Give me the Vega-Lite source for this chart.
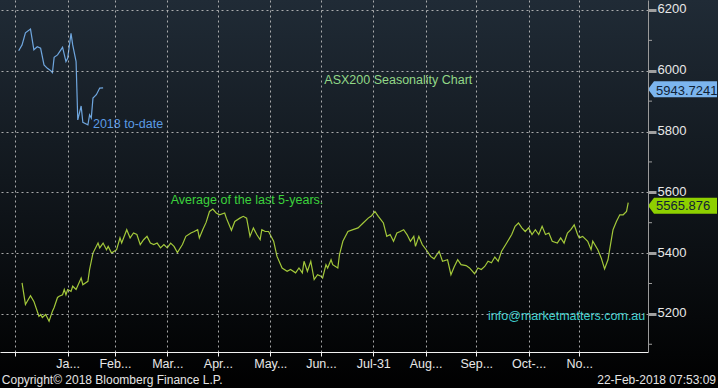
{
  "$schema": "https://vega.github.io/schema/vega-lite/v6.json",
  "width": 648,
  "height": 352,
  "autosize": {"type": "none"},
  "padding": {"left": 0, "top": 0, "right": 70, "bottom": 36},
  "background": "#000000",
  "config": {
    "view": {"stroke": null},
    "axis": {"labelFont": "Liberation Sans", "labelColor": "#e8e8e8", "gridColor": "#c4c4c4", "gridDash": [2, 3], "gridWidth": 1}
  },
  "datasets": {
    "lines": [
      {"series": "avg", "date": "2018-01-04", "value": 5302},
      {"series": "avg", "date": "2018-01-06", "value": 5231},
      {"series": "avg", "date": "2018-01-09", "value": 5260},
      {"series": "avg", "date": "2018-01-11", "value": 5241},
      {"series": "avg", "date": "2018-01-14", "value": 5192},
      {"series": "avg", "date": "2018-01-15", "value": 5198},
      {"series": "avg", "date": "2018-01-16", "value": 5188},
      {"series": "avg", "date": "2018-01-18", "value": 5198},
      {"series": "avg", "date": "2018-01-20", "value": 5176},
      {"series": "avg", "date": "2018-01-22", "value": 5209},
      {"series": "avg", "date": "2018-01-23", "value": 5221},
      {"series": "avg", "date": "2018-01-25", "value": 5254},
      {"series": "avg", "date": "2018-01-26", "value": 5258},
      {"series": "avg", "date": "2018-01-28", "value": 5263},
      {"series": "avg", "date": "2018-01-29", "value": 5280},
      {"series": "avg", "date": "2018-01-30", "value": 5263},
      {"series": "avg", "date": "2018-01-31", "value": 5280},
      {"series": "avg", "date": "2018-02-02", "value": 5274},
      {"series": "avg", "date": "2018-02-03", "value": 5291},
      {"series": "avg", "date": "2018-02-05", "value": 5280},
      {"series": "avg", "date": "2018-02-08", "value": 5318},
      {"series": "avg", "date": "2018-02-09", "value": 5296},
      {"series": "avg", "date": "2018-02-12", "value": 5307},
      {"series": "avg", "date": "2018-02-13", "value": 5346},
      {"series": "avg", "date": "2018-02-15", "value": 5400},
      {"series": "avg", "date": "2018-02-18", "value": 5433},
      {"series": "avg", "date": "2018-02-19", "value": 5417},
      {"series": "avg", "date": "2018-02-21", "value": 5433},
      {"series": "avg", "date": "2018-02-23", "value": 5411},
      {"series": "avg", "date": "2018-02-24", "value": 5422},
      {"series": "avg", "date": "2018-02-26", "value": 5400},
      {"series": "avg", "date": "2018-03-01", "value": 5411},
      {"series": "avg", "date": "2018-03-03", "value": 5450},
      {"series": "avg", "date": "2018-03-04", "value": 5433},
      {"series": "avg", "date": "2018-03-07", "value": 5477},
      {"series": "avg", "date": "2018-03-09", "value": 5450},
      {"series": "avg", "date": "2018-03-11", "value": 5466},
      {"series": "avg", "date": "2018-03-13", "value": 5461},
      {"series": "avg", "date": "2018-03-15", "value": 5428},
      {"series": "avg", "date": "2018-03-17", "value": 5444},
      {"series": "avg", "date": "2018-03-19", "value": 5455},
      {"series": "avg", "date": "2018-03-21", "value": 5433},
      {"series": "avg", "date": "2018-03-23", "value": 5428},
      {"series": "avg", "date": "2018-03-25", "value": 5433},
      {"series": "avg", "date": "2018-03-27", "value": 5417},
      {"series": "avg", "date": "2018-03-29", "value": 5428},
      {"series": "avg", "date": "2018-03-31", "value": 5417},
      {"series": "avg", "date": "2018-04-02", "value": 5433},
      {"series": "avg", "date": "2018-04-04", "value": 5422},
      {"series": "avg", "date": "2018-04-06", "value": 5402},
      {"series": "avg", "date": "2018-04-09", "value": 5428},
      {"series": "avg", "date": "2018-04-11", "value": 5455},
      {"series": "avg", "date": "2018-04-14", "value": 5466},
      {"series": "avg", "date": "2018-04-16", "value": 5471},
      {"series": "avg", "date": "2018-04-18", "value": 5477},
      {"series": "avg", "date": "2018-04-19", "value": 5450},
      {"series": "avg", "date": "2018-04-21", "value": 5477},
      {"series": "avg", "date": "2018-04-23", "value": 5501},
      {"series": "avg", "date": "2018-04-25", "value": 5537},
      {"series": "avg", "date": "2018-04-27", "value": 5545},
      {"series": "avg", "date": "2018-04-29", "value": 5532},
      {"series": "avg", "date": "2018-05-01", "value": 5526},
      {"series": "avg", "date": "2018-05-04", "value": 5532},
      {"series": "avg", "date": "2018-05-05", "value": 5515},
      {"series": "avg", "date": "2018-05-08", "value": 5475},
      {"series": "avg", "date": "2018-05-10", "value": 5504},
      {"series": "avg", "date": "2018-05-13", "value": 5515},
      {"series": "avg", "date": "2018-05-15", "value": 5521},
      {"series": "avg", "date": "2018-05-17", "value": 5515},
      {"series": "avg", "date": "2018-05-19", "value": 5455},
      {"series": "avg", "date": "2018-05-21", "value": 5483},
      {"series": "avg", "date": "2018-05-23", "value": 5461},
      {"series": "avg", "date": "2018-05-25", "value": 5444},
      {"series": "avg", "date": "2018-05-26", "value": 5477},
      {"series": "avg", "date": "2018-05-28", "value": 5471},
      {"series": "avg", "date": "2018-05-30", "value": 5471},
      {"series": "avg", "date": "2018-06-02", "value": 5439},
      {"series": "avg", "date": "2018-06-04", "value": 5389},
      {"series": "avg", "date": "2018-06-07", "value": 5351},
      {"series": "avg", "date": "2018-06-10", "value": 5340},
      {"series": "avg", "date": "2018-06-12", "value": 5346},
      {"series": "avg", "date": "2018-06-15", "value": 5335},
      {"series": "avg", "date": "2018-06-17", "value": 5351},
      {"series": "avg", "date": "2018-06-19", "value": 5335},
      {"series": "avg", "date": "2018-06-20", "value": 5373},
      {"series": "avg", "date": "2018-06-22", "value": 5340},
      {"series": "avg", "date": "2018-06-24", "value": 5373},
      {"series": "avg", "date": "2018-06-26", "value": 5313},
      {"series": "avg", "date": "2018-06-28", "value": 5329},
      {"series": "avg", "date": "2018-06-30", "value": 5324},
      {"series": "avg", "date": "2018-07-01", "value": 5318},
      {"series": "avg", "date": "2018-07-03", "value": 5362},
      {"series": "avg", "date": "2018-07-04", "value": 5351},
      {"series": "avg", "date": "2018-07-06", "value": 5378},
      {"series": "avg", "date": "2018-07-07", "value": 5362},
      {"series": "avg", "date": "2018-07-10", "value": 5351},
      {"series": "avg", "date": "2018-07-11", "value": 5395},
      {"series": "avg", "date": "2018-07-13", "value": 5439},
      {"series": "avg", "date": "2018-07-16", "value": 5471},
      {"series": "avg", "date": "2018-07-19", "value": 5477},
      {"series": "avg", "date": "2018-07-22", "value": 5483},
      {"series": "avg", "date": "2018-07-25", "value": 5499},
      {"series": "avg", "date": "2018-07-28", "value": 5515},
      {"series": "avg", "date": "2018-07-30", "value": 5523},
      {"series": "avg", "date": "2018-08-01", "value": 5537},
      {"series": "avg", "date": "2018-08-03", "value": 5521},
      {"series": "avg", "date": "2018-08-06", "value": 5499},
      {"series": "avg", "date": "2018-08-08", "value": 5455},
      {"series": "avg", "date": "2018-08-10", "value": 5461},
      {"series": "avg", "date": "2018-08-12", "value": 5439},
      {"series": "avg", "date": "2018-08-14", "value": 5466},
      {"series": "avg", "date": "2018-08-16", "value": 5471},
      {"series": "avg", "date": "2018-08-18", "value": 5477},
      {"series": "avg", "date": "2018-08-20", "value": 5461},
      {"series": "avg", "date": "2018-08-22", "value": 5439},
      {"series": "avg", "date": "2018-08-24", "value": 5455},
      {"series": "avg", "date": "2018-08-25", "value": 5422},
      {"series": "avg", "date": "2018-08-27", "value": 5455},
      {"series": "avg", "date": "2018-08-29", "value": 5428},
      {"series": "avg", "date": "2018-09-01", "value": 5406},
      {"series": "avg", "date": "2018-09-03", "value": 5389},
      {"series": "avg", "date": "2018-09-05", "value": 5381},
      {"series": "avg", "date": "2018-09-08", "value": 5406},
      {"series": "avg", "date": "2018-09-10", "value": 5373},
      {"series": "avg", "date": "2018-09-13", "value": 5378},
      {"series": "avg", "date": "2018-09-15", "value": 5329},
      {"series": "avg", "date": "2018-09-17", "value": 5356},
      {"series": "avg", "date": "2018-09-19", "value": 5378},
      {"series": "avg", "date": "2018-09-21", "value": 5362},
      {"series": "avg", "date": "2018-09-24", "value": 5359},
      {"series": "avg", "date": "2018-09-26", "value": 5351},
      {"series": "avg", "date": "2018-09-29", "value": 5332},
      {"series": "avg", "date": "2018-10-01", "value": 5351},
      {"series": "avg", "date": "2018-10-03", "value": 5346},
      {"series": "avg", "date": "2018-10-05", "value": 5356},
      {"series": "avg", "date": "2018-10-07", "value": 5373},
      {"series": "avg", "date": "2018-10-09", "value": 5368},
      {"series": "avg", "date": "2018-10-11", "value": 5387},
      {"series": "avg", "date": "2018-10-13", "value": 5373},
      {"series": "avg", "date": "2018-10-15", "value": 5406},
      {"series": "avg", "date": "2018-10-18", "value": 5433},
      {"series": "avg", "date": "2018-10-21", "value": 5461},
      {"series": "avg", "date": "2018-10-23", "value": 5488},
      {"series": "avg", "date": "2018-10-25", "value": 5499},
      {"series": "avg", "date": "2018-10-27", "value": 5483},
      {"series": "avg", "date": "2018-10-29", "value": 5471},
      {"series": "avg", "date": "2018-10-31", "value": 5483},
      {"series": "avg", "date": "2018-11-02", "value": 5461},
      {"series": "avg", "date": "2018-11-04", "value": 5477},
      {"series": "avg", "date": "2018-11-06", "value": 5461},
      {"series": "avg", "date": "2018-11-08", "value": 5488},
      {"series": "avg", "date": "2018-11-10", "value": 5461},
      {"series": "avg", "date": "2018-11-12", "value": 5466},
      {"series": "avg", "date": "2018-11-14", "value": 5439},
      {"series": "avg", "date": "2018-11-17", "value": 5433},
      {"series": "avg", "date": "2018-11-19", "value": 5450},
      {"series": "avg", "date": "2018-11-21", "value": 5433},
      {"series": "avg", "date": "2018-11-23", "value": 5466},
      {"series": "avg", "date": "2018-11-25", "value": 5477},
      {"series": "avg", "date": "2018-11-27", "value": 5493},
      {"series": "avg", "date": "2018-11-29", "value": 5461},
      {"series": "avg", "date": "2018-11-30", "value": 5450},
      {"series": "avg", "date": "2018-12-02", "value": 5455},
      {"series": "avg", "date": "2018-12-05", "value": 5439},
      {"series": "avg", "date": "2018-12-07", "value": 5411},
      {"series": "avg", "date": "2018-12-08", "value": 5439},
      {"series": "avg", "date": "2018-12-11", "value": 5411},
      {"series": "avg", "date": "2018-12-13", "value": 5384},
      {"series": "avg", "date": "2018-12-15", "value": 5348},
      {"series": "avg", "date": "2018-12-17", "value": 5378},
      {"series": "avg", "date": "2018-12-19", "value": 5444},
      {"series": "avg", "date": "2018-12-20", "value": 5477},
      {"series": "avg", "date": "2018-12-22", "value": 5504},
      {"series": "avg", "date": "2018-12-24", "value": 5526},
      {"series": "avg", "date": "2018-12-26", "value": 5526},
      {"series": "avg", "date": "2018-12-28", "value": 5537},
      {"series": "avg", "date": "2018-12-29", "value": 5565.876},
      {"series": "ytd", "date": "2018-01-02", "value": 6066},
      {"series": "ytd", "date": "2018-01-04", "value": 6085},
      {"series": "ytd", "date": "2018-01-06", "value": 6125},
      {"series": "ytd", "date": "2018-01-09", "value": 6137},
      {"series": "ytd", "date": "2018-01-11", "value": 6069},
      {"series": "ytd", "date": "2018-01-13", "value": 6079},
      {"series": "ytd", "date": "2018-01-15", "value": 6074},
      {"series": "ytd", "date": "2018-01-17", "value": 6019},
      {"series": "ytd", "date": "2018-01-19", "value": 6008},
      {"series": "ytd", "date": "2018-01-21", "value": 6000},
      {"series": "ytd", "date": "2018-01-22", "value": 5994},
      {"series": "ytd", "date": "2018-01-23", "value": 6044},
      {"series": "ytd", "date": "2018-01-25", "value": 6052},
      {"series": "ytd", "date": "2018-01-28", "value": 6077},
      {"series": "ytd", "date": "2018-01-30", "value": 6030},
      {"series": "ytd", "date": "2018-01-31", "value": 6041},
      {"series": "ytd", "date": "2018-02-02", "value": 6123},
      {"series": "ytd", "date": "2018-02-03", "value": 6085},
      {"series": "ytd", "date": "2018-02-05", "value": 6030},
      {"series": "ytd", "date": "2018-02-06", "value": 5838},
      {"series": "ytd", "date": "2018-02-08", "value": 5884},
      {"series": "ytd", "date": "2018-02-09", "value": 5830},
      {"series": "ytd", "date": "2018-02-11", "value": 5825},
      {"series": "ytd", "date": "2018-02-12", "value": 5822},
      {"series": "ytd", "date": "2018-02-13", "value": 5855},
      {"series": "ytd", "date": "2018-02-14", "value": 5844},
      {"series": "ytd", "date": "2018-02-15", "value": 5910},
      {"series": "ytd", "date": "2018-02-17", "value": 5921},
      {"series": "ytd", "date": "2018-02-19", "value": 5943},
      {"series": "ytd", "date": "2018-02-21", "value": 5943.7241}
    ],
    "notes": [
      {"label": "ASX200 Seasonality Chart", "date": "2018-07-02", "value": 5968},
      {"label": "Average of the last 5-years.", "date": "2018-04-02", "value": 5576},
      {"label": "2018 to-date", "date": "2018-02-15", "value": 5825},
      {"label": "info@marketmatters.com.au", "date": "2018-10-07", "value": 5192}
    ],
    "last": [
      {"series": "ytd", "value": 5943.7241, "label": "5943.7241"},
      {"series": "avg", "value": 5565.876, "label": "5565.876"}
    ],
    "minor": [
      {"value": 5100}, {"value": 5300}, {"value": 5500}, {"value": 5700}, {"value": 5900}, {"value": 6100}
    ]
  },
  "layer": [
    {
      "data": {"values": [{"part": "background"}]},
      "mark": {"type": "rect", "fill": {"gradient": "linear", "x1": 0, "y1": 0, "x2": 0, "y2": 1, "stops": [{"offset": 0, "color": "#202b36"}, {"offset": 1, "color": "#000000"}]}},
      "encoding": {
        "x": {"datum": {"year": 2017, "month": 11, "date": 1, "utc": true}, "type": "temporal"},
        "x2": {"datum": {"year": 2019, "month": 4, "date": 1, "utc": true}},
        "y": {"datum": 6233, "type": "quantitative"},
        "y2": {"datum": 4950}
      }
    },
    {
      "data": {"name": "lines"},
      "mark": {"type": "line", "strokeWidth": 1.2},
      "encoding": {
        "x": {
          "field": "date", "type": "temporal",
          "scale": {"type": "utc", "nice": false, "domain": [{"year": 2017, "month": 12, "date": 21, "hours": 22, "minutes": 34, "utc": true}, {"year": 2019, "month": 1, "date": 9, "hours": 17, "utc": true}]},
          "axis": {
            "title": null, "orient": "bottom", "zindex": 1,
            "values": [
              {"year": 2017, "month": 12, "date": 31, "utc": true},
              {"year": 2018, "month": 1, "date": 31, "utc": true},
              {"year": 2018, "month": 2, "date": 28, "utc": true},
              {"year": 2018, "month": 3, "date": 31, "utc": true},
              {"year": 2018, "month": 4, "date": 30, "utc": true},
              {"year": 2018, "month": 5, "date": 31, "utc": true},
              {"year": 2018, "month": 6, "date": 30, "utc": true},
              {"year": 2018, "month": 7, "date": 31, "utc": true},
              {"year": 2018, "month": 8, "date": 31, "utc": true},
              {"year": 2018, "month": 9, "date": 30, "utc": true},
              {"year": 2018, "month": 10, "date": 31, "utc": true},
              {"year": 2018, "month": 11, "date": 30, "utc": true}
            ],
            "labelExpr": "['Ja...','Feb...','Mar...','Apr...','May...','Jun...','Jul-31','Aug...','Sep...','Oct-...','No...',''][utcmonth(datum.value)]",
            "labelFontSize": 12.5, "labelPadding": 1, "labelOverlap": false, "labelFlush": false,
            "domainColor": "#f2f2f2", "tickColor": "#f2f2f2", "tickSize": 4,
            "grid": true, "gridOpacity": 0.85
          }
        },
        "y": {
          "field": "value", "type": "quantitative",
          "scale": {"domain": [5074.5, 6232.8], "nice": false, "zero": false},
          "axis": {
            "title": null, "orient": "right", "zindex": 1,
            "values": [5200, 5400, 5600, 5800, 6000, 6200],
            "format": "d",
            "labelFontSize": 13, "labelPadding": 1, "labelBaseline": "middle", "labelOffset": -1,
            "domainColor": "#9a9a9a", "tickColor": "#a0a0a0", "tickSize": 8, "tickWidth": 3,
            "grid": true, "gridOpacity": 0.85
          }
        },
        "color": {"field": "series", "type": "nominal", "scale": {"domain": ["avg", "ytd"], "range": ["#a3c83a", "#6fa6de"]}, "legend": null}
      }
    },
    {
      "data": {"name": "minor"},
      "mark": {"type": "tick", "orient": "horizontal", "size": 4, "thickness": 1, "color": "#a0a0a0", "opacity": 1, "xOffset": 2},
      "encoding": {
        "x": {"datum": {"year": 2019, "month": 1, "date": 9, "hours": 17, "utc": true}, "type": "temporal"},
        "y": {"field": "value", "type": "quantitative"}
      }
    },
    {
      "data": {"name": "notes"},
      "mark": {"type": "text", "align": "left", "baseline": "middle", "font": "Liberation Sans", "fontSize": 12.5},
      "encoding": {
        "x": {"field": "date", "type": "temporal"},
        "y": {"field": "value", "type": "quantitative"},
        "text": {"field": "label"},
        "color": {"field": "label", "type": "nominal", "scale": {"domain": ["ASX200 Seasonality Chart", "Average of the last 5-years.", "2018 to-date", "info@marketmatters.com.au"], "range": ["#92d888", "#3cd23c", "#5b9be4", "#3fd0d0"]}, "legend": null}
      }
    },
    {
      "data": {"name": "last"},
      "transform": [{"filter": "datum.series === 'ytd'"}],
      "mark": {"type": "point", "shape": "M-1,0L-0.826,-0.232L1,-0.232L1,0.232L-0.826,0.232Z", "filled": true, "color": "#7cb5ee", "opacity": 1, "strokeWidth": 0, "size": 4761, "xOffset": 34.5, "yOffset": 1.5},
      "encoding": {
        "x": {"datum": {"year": 2019, "month": 1, "date": 9, "hours": 17, "utc": true}, "type": "temporal"},
        "y": {"field": "value", "type": "quantitative"}
      }
    },
    {
      "data": {"name": "last"},
      "transform": [{"filter": "datum.series === 'avg'"}],
      "mark": {"type": "point", "shape": "M-1,0L-0.826,-0.232L1,-0.232L1,0.232L-0.826,0.232Z", "filled": true, "color": "#8ed000", "opacity": 1, "strokeWidth": 0, "size": 4761, "xOffset": 34.5, "yOffset": 3},
      "encoding": {
        "x": {"datum": {"year": 2019, "month": 1, "date": 9, "hours": 17, "utc": true}, "type": "temporal"},
        "y": {"field": "value", "type": "quantitative"}
      }
    },
    {
      "data": {"name": "last"},
      "mark": {"type": "text", "align": "left", "baseline": "middle", "font": "Liberation Sans", "fontSize": 13, "color": "#102235", "xOffset": 8, "yOffset": 3},
      "encoding": {
        "x": {"datum": {"year": 2019, "month": 1, "date": 9, "hours": 17, "utc": true}, "type": "temporal"},
        "y": {"field": "value", "type": "quantitative"},
        "text": {"field": "label"}
      }
    },
    {
      "data": {"values": [{"label": "Copyright\u00a9 2018 Bloomberg Finance L.P.", "date": "2017-12-23", "value": 4984}]},
      "mark": {"type": "text", "align": "left", "baseline": "middle", "font": "Liberation Sans", "fontSize": 12, "color": "#e4e4e4"},
      "encoding": {
        "x": {"field": "date", "type": "temporal"},
        "y": {"field": "value", "type": "quantitative"},
        "text": {"field": "label"}
      }
    },
    {
      "data": {"values": [{"label": "22-Feb-2018 07:53:09", "date": "2019-02-19", "value": 4984}]},
      "mark": {"type": "text", "align": "right", "baseline": "middle", "font": "Liberation Sans", "fontSize": 12, "color": "#e4e4e4"},
      "encoding": {
        "x": {"field": "date", "type": "temporal"},
        "y": {"field": "value", "type": "quantitative"},
        "text": {"field": "label"}
      }
    }
  ],
  "resolve": {"scale": {"color": "independent"}}
}
